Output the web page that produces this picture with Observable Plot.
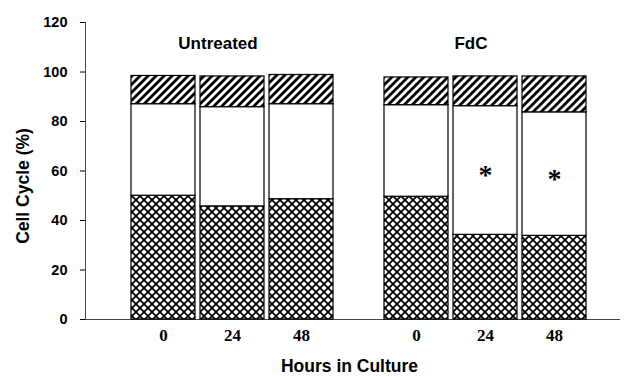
<!DOCTYPE html>
<html><head><meta charset="utf-8">
<script src="https://cdn.jsdelivr.net/npm/d3@7"></script>
<script src="https://cdn.jsdelivr.net/npm/@observablehq/plot@0.6"></script>
<style>
body{margin:0;background:#fff;}
g[aria-label="y-axis tick label"]{font:bold 14.5px "Liberation Sans",Arial,sans-serif;}
g[aria-label="x-axis tick label"]{font:bold 17px "Liberation Serif","Times New Roman",serif;}
g[aria-label="x-axis label"], g[aria-label="y-axis label"]{font:bold 17.5px "Liberation Sans",Arial,sans-serif;}
g[aria-label="x-axis label"] text{translate:11px 0;}
g[aria-label="y-axis label"] text{translate:0 15px;}
</style></head><body><div id="chart"></div>
<script>
const groups = ["Untreated", "FdC"];
const hours = ["0", "24", "48"];
const phases = ["G0/G1", "S", "G2/M"];
const g1Values = [50.0, 45.7, 48.6, 49.6, 34.2, 33.8];
const sValues = [37.0, 40.1, 38.4, 37.0, 52.0, 49.9];
const g2mValues = [11.4, 12.4, 11.8, 11.2, 12.0, 14.5];
const stars = ["", "", "", "", "*", "*"];
const yTicks = [0, 20, 40, 60, 80, 100, 120];

const seriesValues = [g1Values, sValues, g2mValues];
const rows = [];
phases.forEach((phase, p) => {
  seriesValues[p].forEach((v, i) => {
    rows.push({
      group: groups[Math.floor(i / 3)],
      hour: hours[i % 3],
      phase,
      value: v,
      star: phase === "S" ? stars[i] : ""
    });
  });
});

const chart = Plot.plot({
  width: 624,
  height: 377,
  marginLeft: 85,
  marginRight: 4,
  marginTop: 22,
  marginBottom: 58,
  style: {background: "white", color: "black"},
  fx: {domain: groups, paddingInner: 0, paddingOuter: 0.0573, align: 0, axis: null},
  x: {domain: hours, paddingInner: 0.079, paddingOuter: 0.36, align: 0.9, tickSize: 0, tickPadding: 9,
      label: "Hours in Culture", labelOffset: 52},
  y: {domain: [0, 120], ticks: yTicks, tickSize: 5, tickPadding: 13,
      label: "Cell Cycle (%)", labelAnchor: "center", labelOffset: 69, labelArrow: false},
  color: {type: "ordinal", domain: phases, range: ["url(#crosshatch)", "white", "url(#diaghatch)"]},
  marks: [
    Plot.ruleY([0], {stroke: "#444", insetRight: -29}),
    Plot.barY(rows, Plot.stackY({fx: "group", x: "hour", y: "value", fill: "phase", z: "phase",
      stroke: "black", strokeWidth: 1.2})),
    Plot.text(rows, Plot.stackY({fx: "group", x: "hour", y: "value", z: "phase", text: "star",
      fontFamily: "Liberation Serif, serif", fontWeight: "bold", fontSize: 28, dy: 5})),
    Plot.text(groups, {fx: d => d, text: d => d, frameAnchor: "top", lineAnchor: "top", dy: 14, dx: 6,
      fontFamily: "Liberation Sans, Arial, sans-serif", fontWeight: "bold", fontSize: 17}),
    Plot.frame({anchor: "left", facetAnchor: "left", stroke: "#444"})
  ]
});

const defs = document.createElementNS("http://www.w3.org/2000/svg", "defs");
defs.innerHTML = `
<pattern id="crosshatch" patternUnits="userSpaceOnUse" width="8" height="8">
  <rect width="8" height="8" fill="white"/>
  <path d="M-2,-2L10,10M10,-2L-2,10" stroke="black" stroke-width="1.8"/>
</pattern>
<pattern id="diaghatch" patternUnits="userSpaceOnUse" width="8" height="8">
  <rect width="8" height="8" fill="white"/>
  <path d="M-2,10L10,-2M-2,2L2,-2M6,10L10,6" stroke="black" stroke-width="2.8"/>
</pattern>`;
chart.insertBefore(defs, chart.firstChild);
document.getElementById("chart").appendChild(chart);
</script></body></html>
